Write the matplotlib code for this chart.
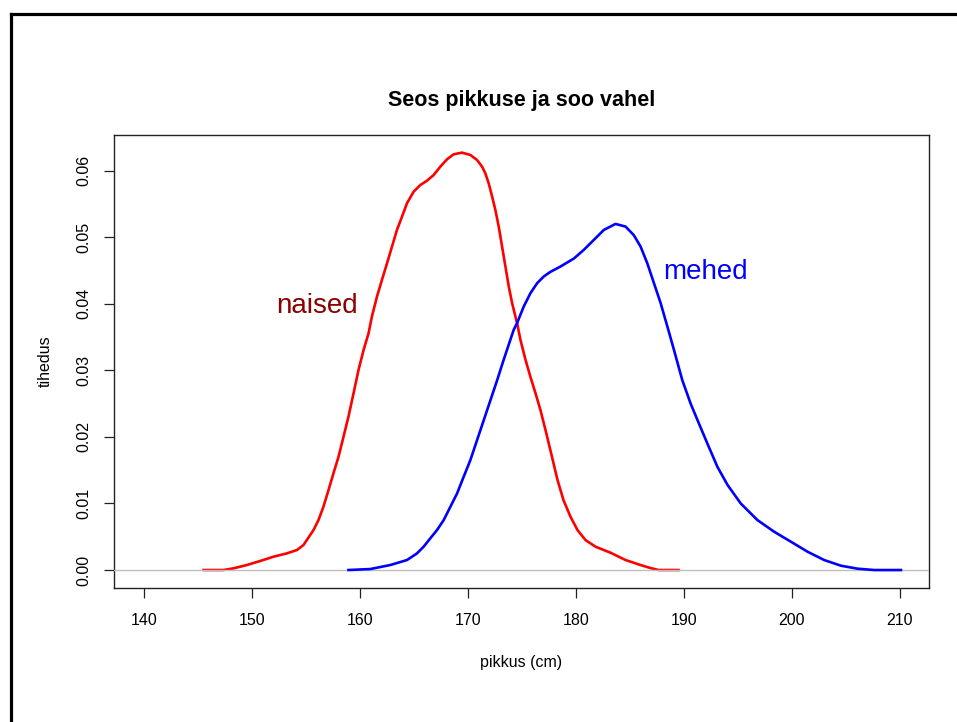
import numpy as np
import matplotlib.pyplot as plt
from matplotlib.lines import Line2D

plt.rcParams['font.family'] = ['Liberation Sans', 'DejaVu Sans']

# naised (women) density curve
naised_x = [145.5, 147.33, 148.26, 149.5, 150.73, 151.97, 153.21, 154.14, 154.75, 155.06,
            155.68, 156.14, 156.6, 157.07, 157.53, 158.0, 158.46, 158.92, 159.39, 159.85,
            160.32, 160.78, 161.09, 161.56, 162.02, 162.49, 162.95, 163.41, 163.88, 164.34,
            164.96, 165.58, 166.2, 166.81, 167.43, 168.05, 168.66, 169.44, 170.21, 170.83,
            171.3, 171.6, 171.91, 172.23, 172.53, 172.84, 173.15, 173.46, 173.77, 174.08,
            174.54, 174.85, 175.32, 175.78, 176.24, 176.71, 177.18, 177.73, 178.29, 178.84,
            179.49, 180.14, 180.88, 181.81, 183.2, 184.59, 185.98, 186.9, 187.65, 189.5]
naised_y = [0.0, 0.0, 0.00025, 0.00075, 0.00135, 0.002, 0.0025, 0.003, 0.00375, 0.0045,
            0.006, 0.0075, 0.0095, 0.012, 0.01453, 0.01703, 0.02003, 0.02304, 0.02655, 0.03005,
            0.03306, 0.03556, 0.03807, 0.04107, 0.04358, 0.04608, 0.04858, 0.05109, 0.05309, 0.0551,
            0.05685, 0.05785, 0.0585, 0.05935, 0.0606, 0.06171, 0.06246, 0.06271, 0.06236, 0.06161,
            0.0606, 0.0596, 0.0581, 0.0561, 0.0541, 0.0516, 0.0486, 0.0456, 0.0426, 0.0401,
            0.0371, 0.0346, 0.0316, 0.029, 0.0266, 0.024, 0.021, 0.0173, 0.0135, 0.0105,
            0.008, 0.006, 0.0045, 0.0035, 0.0026, 0.0015, 0.00075, 0.0003, 0.0, 0.0]

# mehed (men) density curve
mehed_x = [158.92, 160.94, 162.79, 164.34, 165.27, 165.88, 166.5, 167.12, 167.74, 168.36,
           168.98, 169.59, 170.21, 170.83, 171.45, 172.07, 172.69, 173.3, 173.92, 174.23,
           174.54, 175.16, 175.78, 176.4, 177.01, 177.63, 178.56, 179.8, 180.72, 181.65,
           182.58, 183.66, 184.59, 185.36, 185.98, 186.6, 187.22, 187.84, 188.46, 189.07,
           189.85, 190.62, 191.39, 192.17, 193.1, 194.03, 195.26, 196.81, 198.35, 199.9,
           201.45, 202.99, 204.54, 206.09, 207.63, 210.1]
mehed_y = [0.0, 0.00015, 0.00075, 0.0015, 0.0025, 0.0035, 0.00476, 0.006, 0.0075, 0.0095,
           0.0115, 0.014, 0.0165, 0.0195, 0.0225, 0.0255, 0.0285, 0.0316, 0.0346, 0.0361,
           0.0371, 0.0396, 0.0416, 0.0431, 0.0441, 0.0448, 0.0456, 0.0468, 0.0481, 0.0496,
           0.0511, 0.052, 0.0516, 0.0503, 0.0486, 0.0461, 0.0431, 0.0401, 0.0366, 0.0331,
           0.0285, 0.025, 0.022, 0.019, 0.0155, 0.0128, 0.01, 0.0075, 0.00576, 0.00426,
           0.00275, 0.0015, 0.00065, 0.0002, 0.0, 0.0]

x_ticks = [140, 150, 160, 170, 180, 190, 200, 210]
y_ticks = [0.00, 0.01, 0.02, 0.03, 0.04, 0.05, 0.06]

fig = plt.figure(figsize=(9.57, 7.22), dpi=100)
ax = fig.add_axes([114 / 957, 1 - 588 / 722, (929 - 114) / 957, (588 - 135) / 722])

ax.plot(naised_x, naised_y, color="red", lw=1.9, zorder=2, solid_joinstyle="round")
ax.axhline(0, color="#bebebe", lw=1, zorder=3)
ax.plot(mehed_x, mehed_y, color="blue", lw=1.9, zorder=4, solid_joinstyle="round")

ax.text(156.0, 0.0397, "naised", color="#8b0000", fontsize=20, ha="center", va="center")
ax.text(192.0, 0.0448, "mehed", color="blue", fontsize=20, ha="center", va="center")

ax.set_xlim(137.2, 212.7)
ax.set_ylim(-0.0027, 0.06536)
ax.set_xticks(x_ticks)
ax.set_xticklabels([str(t) for t in x_ticks])
ax.set_yticks(y_ticks)
ax.set_yticklabels(["%.2f" % t for t in y_ticks], rotation=90, va="center")
ax.tick_params(length=7, width=0.9, labelsize=11.5, color="#222222")
ax.tick_params(axis="x", pad=11)
ax.tick_params(axis="y", pad=9)
for s in ax.spines.values():
    s.set_linewidth(1)
    s.set_color("#222222")

ax.set_title("Seos pikkuse ja soo vahel", fontsize=15.5, fontweight="bold", pad=21)
ax.set_xlabel("pikkus (cm)", fontsize=11.5, labelpad=19.5)
ax.set_ylabel("tihedus", fontsize=11.5, labelpad=17)

# outer border (left and top edges visible)
fig.add_artist(Line2D([11 / 957, 11 / 957], [0, 1 - 13.5 / 722], color="black", lw=2.3,
                      transform=fig.transFigure))
fig.add_artist(Line2D([11 / 957, 1], [1 - 13.5 / 722, 1 - 13.5 / 722], color="black", lw=2.3,
                      transform=fig.transFigure))

fig.savefig("out.png", dpi=100)
